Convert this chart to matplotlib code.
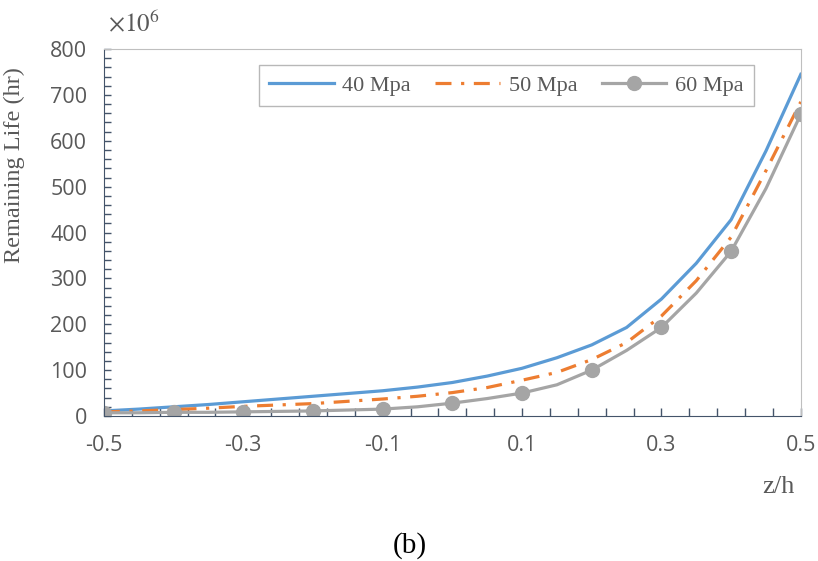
import numpy as np
import matplotlib
matplotlib.use("Agg")
import matplotlib.pyplot as plt
from matplotlib.ticker import MultipleLocator, FixedLocator

plt.rcParams["mathtext.fontset"] = "stix"

# data (values x 10^6 hr), every 0.05 in z/h
z = [-0.5, -0.45, -0.4, -0.35, -0.3, -0.25, -0.2, -0.15, -0.1, -0.05, 0.0,
     0.05, 0.1, 0.15, 0.2, 0.25, 0.3, 0.35, 0.4, 0.45, 0.5]
life_40 = [11, 15, 20, 25, 31, 37, 43, 49, 55, 63, 73,
           87, 104, 127, 155, 193, 255, 333, 428, 578, 745]
life_50 = [9, 11, 14, 17, 21, 24, 27, 32, 37, 43, 51,
           62, 78, 95, 123, 160, 218, 295, 390, 535, 685]
life_60 = [7, 7, 8, 8, 9, 10, 11, 13, 15, 20, 28,
           38, 50, 68, 100, 143, 193, 268, 359, 496, 658]

x_labels = ["-0.5", "-0.3", "-0.1", "0.1", "0.3", "0.5"]
x_label_pos = [-0.5, -0.3, -0.1, 0.1, 0.3, 0.5]
y_ticks = [0, 100, 200, 300, 400, 500, 600, 700, 800]

serif = "Liberation Serif"
txt_gray = "#595959"
axis_col = "#44546a"

fig = plt.figure(figsize=(8.18, 5.61), dpi=100)
ax = fig.add_axes([0.127, 0.2585, 0.852, 0.654])

ax.plot(z, life_40, color="#5b9bd5", lw=2.3, label="40 Mpa")
ax.plot(z, life_50, color="#ed7d31", lw=2.3, dashes=(5, 3, 1, 3), label="50 Mpa")
ax.plot(z, life_60, color="#a5a5a5", lw=2.3, marker="o", markersize=10,
        markevery=2, label="60 Mpa")

ax.set_xlim(-0.5, 0.5)
ax.set_ylim(0, 800)

ax.xaxis.set_major_locator(FixedLocator(x_label_pos))
ax.set_xticklabels(x_labels)
ax.xaxis.set_minor_locator(FixedLocator([-0.5 + 0.04 * k for k in range(26)]))
ax.set_yticks(y_ticks)
ax.yaxis.set_minor_locator(MultipleLocator(20))

ax.tick_params(axis="both", which="both", direction="in", colors=axis_col,
               labelcolor=txt_gray, labelsize=15.5, width=1)
ax.tick_params(axis="x", which="both", length=6, pad=14)
ax.tick_params(axis="y", which="both", length=5, pad=12)
for lab in ax.get_xticklabels() + ax.get_yticklabels():
    lab.set_family("Open Sans")

ax.spines["left"].set_color(axis_col)
ax.spines["bottom"].set_color(axis_col)
ax.spines["top"].set_color("#bfbfbf")
ax.spines["right"].set_color("#bfbfbf")

ax.set_ylabel("Remaining Life (hr)", family=serif, fontsize=17.5, color=txt_gray)
ax.yaxis.set_label_coords(-0.113, 0.685)
fig.text(0.952, 0.132, "z/h", family=serif, fontsize=19, color=txt_gray,
         ha="center", va="center")
fig.text(0.163, 0.958, r"$\times10^6$", fontsize=18,
         color=txt_gray, ha="center", va="center")
fig.text(0.501, 0.027, "(b)", family=serif, fontsize=21, color="black",
         ha="center", va="center")

leg = ax.legend(loc="upper right", bbox_to_anchor=(0.9326, 0.956), ncol=3,
                prop={"family": serif, "size": 16}, frameon=True,
                fancybox=False, edgecolor="#a6a6a6", handlelength=2.9,
                columnspacing=1.1, handletextpad=0.4, borderpad=0.45,
                borderaxespad=0)
leg.get_frame().set_linewidth(1.0)
for t in leg.get_texts():
    t.set_color(txt_gray)

fig.savefig("out.png", dpi=100)
